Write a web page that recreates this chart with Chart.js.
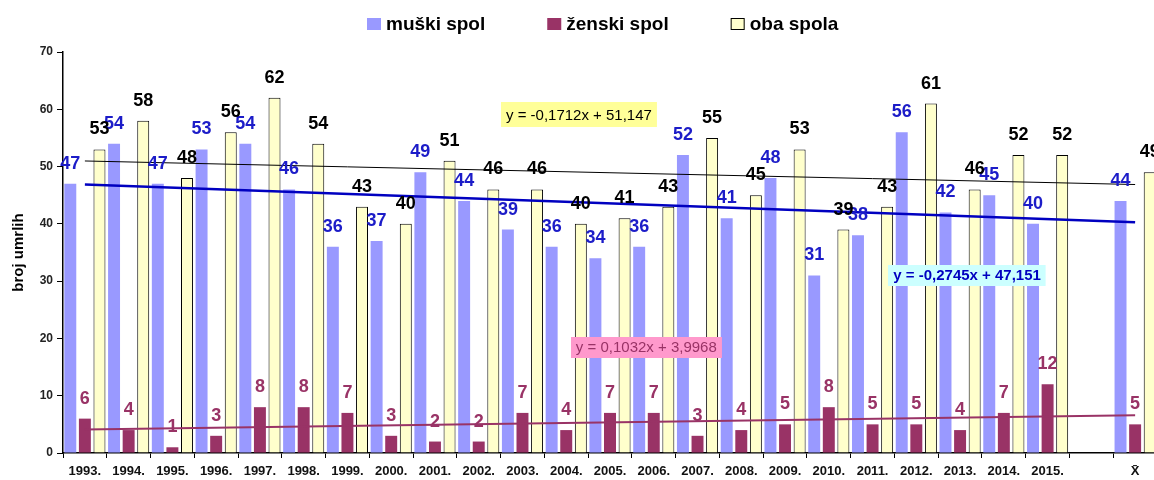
<!DOCTYPE html>
<html>
<head>
<meta charset="utf-8">
<script src="https://cdn.jsdelivr.net/npm/chart.js@4.4.1/dist/chart.umd.min.js"></script>
<style>
html,body{margin:0;padding:0;background:#fff;overflow:hidden;}
#wrap{width:1157px;height:480px;position:relative;}
</style>
</head>
<body>
<div id="wrap"><canvas id="c"></canvas></div>
<script>
// ---- data ----
const categories = ['1993.','1994.','1995.','1996.','1997.','1998.','1999.','2000.','2001.','2002.','2003.','2004.','2005.','2006.','2007.','2008.','2009.','2010.','2011.','2012.','2013.','2014.','2015.','','X\u0304'];
const muski  = [47,54,47,53,54,46,36,37,49,44,39,36,34,36,52,41,48,31,38,56,42,45,40,null,44];
const zenski = [6,4,1,3,8,8,7,3,2,2,7,4,7,7,3,4,5,8,5,5,4,7,12,null,5];
const oba    = [53,58,48,56,62,54,43,40,51,46,46,40,41,43,55,45,53,39,43,61,46,52,52,null,49];
const seriesNames = ['muški spol','ženski spol','oba spola'];
const yTicks = [0,10,20,30,40,50,60,70];
// linear trend lines y = a*x + b (x = 1..25), as printed on the chart
const trendSlope     = [-0.2745, 0.1032, -0.1712];
const trendIntercept = [47.151, 3.9968, 51.147];
const trendLabels    = ['y = -0,2745x + 47,151','y = 0,1032x + 3,9968','y = -0,1712x + 51,147'];

const FONT = '"Liberation Sans", Arial, Helvetica, sans-serif';
const n = categories.length;
function trendData(k){
  return [
    {x: categories[0],   y: trendSlope[k]*1 + trendIntercept[k]},
    {x: categories[n-1], y: trendSlope[k]*n + trendIntercept[k]}
  ];
}

const legendPlugin = {
  id:'customLegend',
  afterDraw(chart){
    const ctx = chart.ctx; ctx.save();
    ctx.font = 'bold 19px ' + FONT;
    ctx.textBaseline = 'middle'; ctx.textAlign = 'left';
    let x = 367;
    chart.data.datasets.forEach(ds=>{
      if(ds.type === 'line') return;
      ctx.fillStyle = ds.backgroundColor;
      ctx.fillRect(x, 18, 14, 12);
      if(ds.borderWidth){ ctx.strokeStyle='#000'; ctx.lineWidth=1; ctx.strokeRect(x+0.5, 18.5, 13, 11); }
      ctx.fillStyle = '#000';
      ctx.fillText(ds.label, x+19, 25);
      x += 19 + ctx.measureText(ds.label).width + 62;
    });
    ctx.restore();
  }
};

const valueLabels = {
  id:'valueLabels',
  afterDatasetsDraw(chart){
    const ctx = chart.ctx; ctx.save();
    ctx.font = 'bold 18px ' + FONT;
    ctx.textAlign = 'center'; ctx.textBaseline = 'middle';
    chart.data.datasets.forEach((ds,i)=>{
      if(ds.type === 'line') return;
      const meta = chart.getDatasetMeta(i);
      meta.data.forEach((el,j)=>{
        const v = ds.data[j];
        if(v == null) return;
        ctx.fillStyle = ds.labelColor;
        ctx.fillText(String(v), el.x, el.y - 20);
      });
    });
    ctx.restore();
  }
};

const trendBoxes = {
  id:'trendBoxes',
  afterDraw(chart, args, opts){
    const ctx = chart.ctx; ctx.save();
    const xs = chart.scales.x, ys = chart.scales.y;
    opts.boxes.forEach((b,k)=>{
      const cx = xs.getPixelForValue(b.at[0]);
      const cy = ys.getPixelForValue(b.at[1]);
      ctx.font = b.font;
      const w = ctx.measureText(trendLabels[k]).width + 10;
      const h = b.h;
      ctx.fillStyle = b.fill;
      ctx.fillRect(Math.round(cx - w/2), Math.round(cy - h/2), w, h);
      ctx.fillStyle = b.color;
      ctx.textAlign = 'center'; ctx.textBaseline = 'middle';
      ctx.fillText(trendLabels[k], cx, cy + 1);
    });
    ctx.restore();
  }
};

new Chart(document.getElementById('c'), {
  type:'bar',
  data:{
    labels: categories,
    datasets:[
      {label:seriesNames[0], data:muski,  backgroundColor:'#9999ff', borderWidth:0, labelColor:'#1c1cc8', order:2},
      {label:seriesNames[1], data:zenski, backgroundColor:'#993366', borderWidth:0, labelColor:'#993366', order:2},
      {label:seriesNames[2], data:oba,    backgroundColor:'#ffffcc', borderColor:'#000', borderWidth:1, labelColor:'#000', order:2},
      {type:'line', label:'trend muški', data:trendData(0), borderColor:'#0000c0', borderWidth:2.5, pointRadius:0, order:0},
      {type:'line', label:'trend ženski', data:trendData(1), borderColor:'#993366', borderWidth:2, pointRadius:0, order:0},
      {type:'line', label:'trend oba', data:trendData(2), borderColor:'#000', borderWidth:1, pointRadius:0, order:0}
    ]
  },
  options:{
    responsive:true, maintainAspectRatio:false, animation:false,
    datasets:{bar:{categoryPercentage:1.0, barPercentage:0.82}},
    layout:{padding:{top:52, left:0, right:0, bottom:0}},
    plugins:{
      legend:{display:false}, tooltip:{enabled:false},
      trendBoxes:{boxes:[
        {at:[20.16, 31.07], fill:'#ccffff', color:'#0000c0', font:'bold 15px '+FONT, h:21},
        {at:[12.83, 18.5],  fill:'#ff99cc', color:'#993366', font:'15px '+FONT, h:21},
        {at:[11.29, 59.1],  fill:'#ffff99', color:'#000', font:'15px '+FONT, h:25}
      ]}
    },
    scales:{
      x:{
        grid:{display:true, drawOnChartArea:false, drawTicks:true, tickLength:5, color:'#000', offset:true},
        border:{display:true, color:'#000', width:1.5},
        ticks:{font:{family:FONT, weight:'bold', size:13}, color:'#111', maxRotation:0, autoSkip:false, padding:6},
        afterFit(s){ s.height = 27; }
      },
      y:{
        min:0, max:70,
        afterBuildTicks(s){ s.ticks = yTicks.map(v=>({value:v})); },
        grid:{display:true, drawOnChartArea:false, drawTicks:true, tickLength:6, color:'#000'},
        border:{display:true, color:'#000', width:1.5},
        ticks:{font:{family:FONT, weight:'bold', size:12}, color:'#222', padding:4},
        title:{display:true, text:'broj umrlih', font:{family:FONT, weight:'bold', size:15}, color:'#000', padding:{top:10, bottom:0}},
        afterFit(s){ s.width = 63; }
      }
    }
  },
  plugins:[valueLabels, trendBoxes, legendPlugin]
});
</script>
</body>
</html>
